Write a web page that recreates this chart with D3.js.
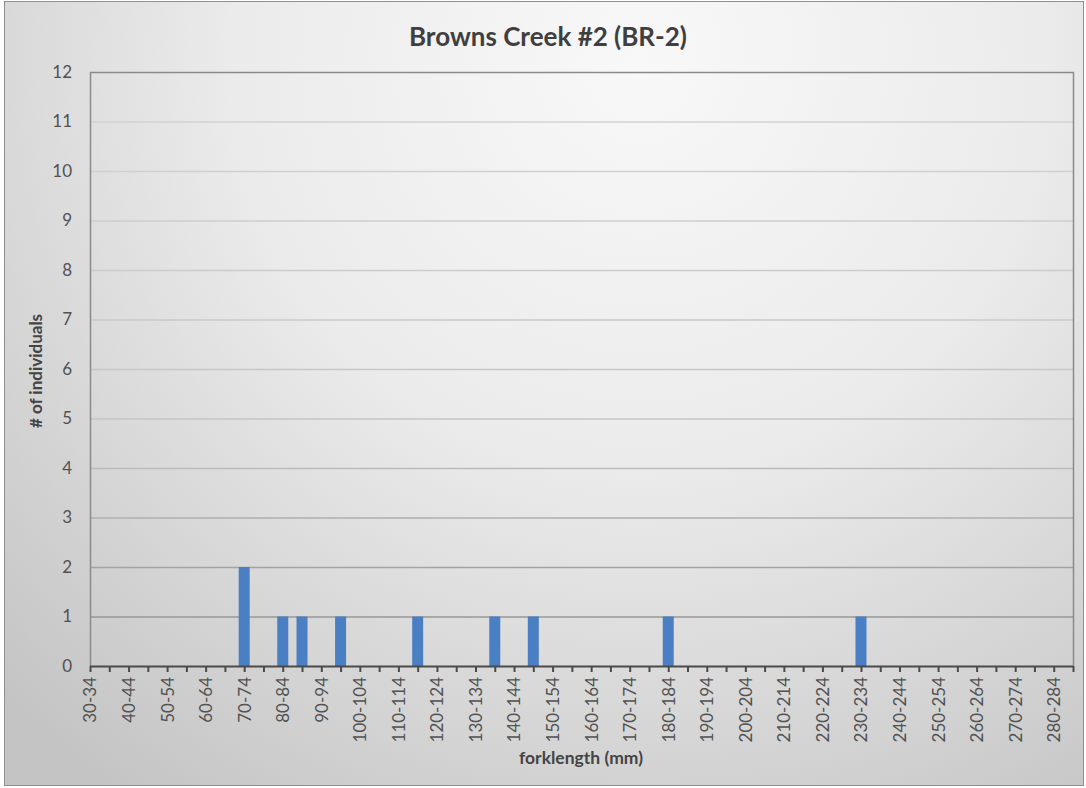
<!DOCTYPE html>
<html>
<head>
<meta charset="utf-8">
<script src="https://cdn.jsdelivr.net/npm/d3@7"></script>
<style>
  html, body { margin: 0; padding: 0; background: #ffffff; }
  svg { display: block; }
  text { font-family: Lato, "Open Sans", sans-serif; }
</style>
</head>
<body>
<svg id="chart" width="1086" height="788"></svg>
<script>
// Fork length bins (5 mm wide)
const categories = [
  "30-34","35-39","40-44","45-49","50-54","55-59","60-64","65-69","70-74","75-79",
  "80-84","85-89","90-94","95-99","100-104","105-109","110-114","115-119","120-124","125-129",
  "130-134","135-139","140-144","145-149","150-154","155-159","160-164","165-169","170-174","175-179",
  "180-184","185-189","190-194","195-199","200-204","205-209","210-214","215-219","220-224","225-229",
  "230-234","235-239","240-244","245-249","250-254","255-259","260-264","265-269","270-274","275-279",
  "280-284","285-289"
];
// Number of fish counted in each bin
const counts = [
  0,0,0,0,0,0,0,0,2,0,
  1,1,0,1,0,0,0,1,0,0,
  0,1,0,1,0,0,0,0,0,0,
  1,0,0,0,0,0,0,0,0,0,
  1,0,0,0,0,0,0,0,0,0,
  0,0
];
// Labelled bins on the horizontal axis
const xTickLabels = [
  "30-34","40-44","50-54","60-64","70-74","80-84","90-94","100-104","110-114","120-124",
  "130-134","140-144","150-154","160-164","170-174","180-184","190-194","200-204","210-214",
  "220-224","230-234","240-244","250-254","260-264","270-274","280-284"
];
const yTicks = [0,1,2,3,4,5,6,7,8,9,10,11,12];

const titleText = "Browns Creek #2 (BR-2)";
const xTitle = "forklength (mm)";
const yTitle = "# of individuals";

const W = 1086, H = 788;
const plot = { left: 90, right: 1073, top: 72, bottom: 666 };

const svg = d3.select("#chart");
const defs = svg.append("defs");

// Soft grey backdrop, brightest toward the top
const bg = defs.append("radialGradient").attr("id", "bgGrad")
  .attr("gradientUnits", "userSpaceOnUse")
  .attr("cx", 640).attr("cy", 60).attr("r", 900);
bg.append("stop").attr("offset", "0%").attr("stop-color", "#f8f8f8");
bg.append("stop").attr("offset", "45%").attr("stop-color", "#ebebeb");
bg.append("stop").attr("offset", "100%").attr("stop-color", "#c4c4c4");

// Gridlines darken toward the baseline
const gg = defs.append("linearGradient").attr("id", "gridGrad")
  .attr("gradientUnits", "userSpaceOnUse")
  .attr("x1", 0).attr("y1", plot.top).attr("x2", 0).attr("y2", plot.bottom);
gg.append("stop").attr("offset", "0%").attr("stop-color", "#d4d4d4");
gg.append("stop").attr("offset", "60%").attr("stop-color", "#c4c4c4");
gg.append("stop").attr("offset", "100%").attr("stop-color", "#8c8c8c");

svg.append("rect").attr("x", 4.5).attr("y", 1.5).attr("width", 1079).attr("height", 784)
  .attr("fill", "url(#bgGrad)").attr("stroke", "#8f8f8f").attr("stroke-width", 1);

const x = d3.scalePoint().domain(categories).range([plot.left, plot.right]);
const y = d3.scaleLinear().domain([0, 12]).range([plot.bottom, plot.top]);

// Horizontal gridlines
svg.append("g").selectAll("line").data(yTicks.filter(v => v > 0 && v < 12)).join("line")
  .attr("x1", plot.left).attr("x2", plot.right)
  .attr("y1", d => y(d) + 0.5).attr("y2", d => y(d) + 0.5)
  .attr("stroke", "url(#gridGrad)").attr("stroke-width", 1.3);

// Plot frame (top, left, right)
svg.append("path")
  .attr("d", `M${plot.left + 0.5},${plot.bottom} V${plot.top + 0.5} H${plot.right + 0.5} V${plot.bottom}`)
  .attr("fill", "none").attr("stroke", "#8a8a8a").attr("stroke-width", 1.5);

// Bars
const barW = 11;
svg.append("g").selectAll("rect").data(categories.map((c, i) => ({ c, v: counts[i] })).filter(d => d.v > 0))
  .join("rect")
  .attr("x", d => x(d.c) - barW / 2)
  .attr("y", d => y(d.v))
  .attr("width", barW)
  .attr("height", d => y(0) - y(d.v))
  .attr("fill", "#4a7fc4");

// X axis
const xAxis = d3.axisBottom(x)
  .tickSize(6)
  .tickFormat(d => xTickLabels.includes(d) ? d : "");
const gx = svg.append("g").attr("transform", `translate(0,${plot.bottom})`).call(xAxis);
gx.select(".domain").attr("stroke", "#4a4a4a").attr("stroke-width", 2).attr("d", `M${plot.left},0.5H${plot.right}`);
gx.selectAll(".tick line").attr("stroke", "#4a4a4a").attr("stroke-width", 2);
gx.selectAll(".tick text")
  .attr("fill", "#525252").attr("font-size", 17)
  .attr("transform", "rotate(-90)")
  .attr("text-anchor", "end")
  .attr("x", -11).attr("y", 0).attr("dy", "0.35em");

// Y axis labels
const gy = svg.append("g").attr("transform", `translate(${plot.left},0)`)
  .call(d3.axisLeft(y).tickValues(yTicks).tickSize(0).tickPadding(18).tickFormat(d3.format("d")));
gy.select(".domain").remove();
gy.selectAll(".tick text").attr("fill", "#525252").attr("font-size", 17);

// Titles
svg.append("text").attr("x", 548).attr("y", 46).attr("text-anchor", "middle")
  .attr("font-size", 26).attr("font-weight", "bold").attr("fill", "#3f3f3f").text(titleText);
svg.append("text").attr("x", 581).attr("y", 764).attr("text-anchor", "middle")
  .attr("font-size", 17.5).attr("font-weight", "bold").attr("fill", "#444444").text(xTitle);
svg.append("text").attr("transform", "translate(42,371) rotate(-90)").attr("text-anchor", "middle")
  .attr("font-size", 17).attr("font-weight", "bold").attr("fill", "#444444").text(yTitle);
</script>
</body>
</html>
